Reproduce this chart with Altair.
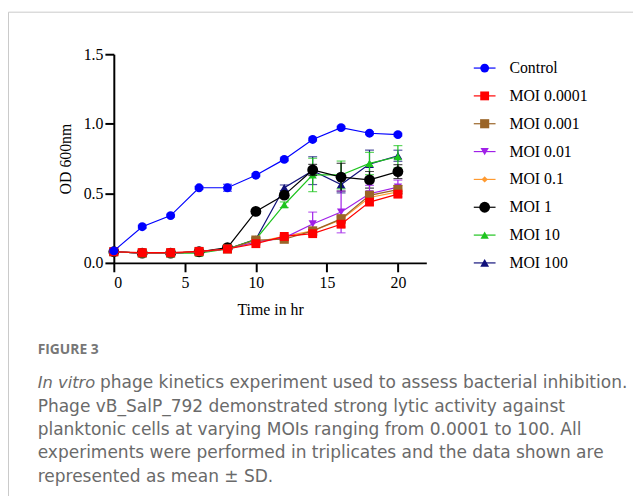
import altair as alt
import pandas as pd

# ---------------- data ----------------
time_hr = [0, 2, 4, 6, 8, 10, 12, 14, 16, 18, 20]

series_names = ["Control", "MOI 0.0001", "MOI 0.001", "MOI 0.01",
                "MOI 0.1", "MOI 1", "MOI 10", "MOI 100"]

od_control = [0.086, 0.26, 0.34, 0.54, 0.54, 0.63, 0.744, 0.887, 0.972, 0.932, 0.922]
od_moi_0_0001 = [0.08, 0.074, 0.074, 0.083, 0.10, 0.138, 0.19, 0.21, 0.278, 0.437, 0.494]
od_moi_0_001 = [0.08, 0.07, 0.07, 0.08, 0.10, 0.164, 0.17, 0.23, 0.316, 0.485, 0.527]
od_moi_0_01 = [0.08, 0.07, 0.07, 0.08, 0.10, 0.15, 0.18, 0.28, 0.366, 0.497, 0.545]
od_moi_0_1 = [0.08, 0.07, 0.07, 0.08, 0.10, 0.15, 0.19, 0.23, 0.31, 0.47, 0.51]
od_moi_1 = [0.08, 0.07, 0.07, 0.08, 0.11, 0.37, 0.487, 0.668, 0.616, 0.597, 0.656]
od_moi_10 = [0.08, 0.07, 0.07, 0.07, 0.10, 0.17, 0.418, 0.632, 0.632, 0.715, 0.763]
od_moi_100 = [0.08, 0.07, 0.07, 0.08, 0.10, 0.17, 0.54, 0.663, 0.563, 0.71, 0.77]

sd_control = [0.01, 0.01, 0.01, 0.01, 0.025, 0.01, 0.01, 0.01, 0.01, 0.01, 0.01]
sd_moi_0_0001 = [0, 0, 0, 0, 0, 0.01, 0.01, 0.01, 0.02, 0.02, 0.02]
sd_moi_0_001 = [0, 0, 0, 0, 0, 0.01, 0.01, 0.01, 0.03, 0.03, 0.03]
sd_moi_0_01 = [0, 0, 0, 0, 0, 0.01, 0.01, 0.085, 0.15, 0.06, 0.05]
sd_moi_0_1 = [0, 0, 0, 0, 0, 0.01, 0.01, 0.01, 0.02, 0.02, 0.02]
sd_moi_1 = [0, 0, 0, 0, 0, 0.01, 0.02, 0.04, 0.10, 0.06, 0.05]
sd_moi_10 = [0, 0, 0, 0, 0, 0.01, 0.02, 0.12, 0.10, 0.08, 0.08]
sd_moi_100 = [0, 0, 0, 0, 0, 0.01, 0.02, 0.10, 0.06, 0.10, 0.04]

x_ticks = [0, 5, 10, 15, 20]
y_ticks = [0.0, 0.5, 1.0, 1.5]

caption_head = "FIGURE 3"
caption_italic = "In vitro"
caption_lines = [
    "phage kinetics experiment used to assess bacterial inhibition.",
    "Phage vB_SalP_792 demonstrated strong lytic activity against",
    "planktonic cells at varying MOIs ranging from 0.0001 to 100. All",
    "experiments were performed in triplicates and the data shown are",
    "represented as mean \u00b1 SD.",
]

# ---------------- styles ----------------
od_values = [od_control, od_moi_0_0001, od_moi_0_001, od_moi_0_01,
             od_moi_0_1, od_moi_1, od_moi_10, od_moi_100]
sd_values = [sd_control, sd_moi_0_0001, sd_moi_0_001, sd_moi_0_01,
             sd_moi_0_1, sd_moi_1, sd_moi_10, sd_moi_100]
colors = ["#0000ff", "#ff0000", "#9a6427", "#a020e8",
          "#ff9a30", "#000000", "#1ec41e", "#10107a"]
shapes = ["circle", "square", "square", "triangle-down",
          "diamond", "circle", "triangle-up", "triangle-up"]
sizes = [80, 80, 85, 70, 40, 120, 70, 80]
draw_order = [7, 6, 5, 4, 3, 2, 1, 0]

SERIF = "Liberation Serif"
SANS = "DejaVu Sans"
W, H = 316, 211
PAD_L, PAD_T = 107, 44
CAP_X = -77

x_scale = alt.Scale(domain=[0, 22], nice=False)
y_scale = alt.Scale(domain=[0, 1.5], nice=False)
x_axis = alt.Axis(values=x_ticks, title="Time in hr")
y_axis = alt.Axis(values=y_ticks, format=".1f", title="OD 600nm")


def X(field):
    return alt.X(field, scale=x_scale, axis=x_axis, title="Time in hr")


def Y(field):
    return alt.Y(field, scale=y_scale, axis=y_axis, title="OD 600nm")


layers = []

# frame (light border around figure)
frame = alt.Chart(pd.DataFrame({"a": [0]})).mark_rect(
    fill=None, stroke="#c9c9c9", strokeWidth=1
).encode(x=alt.value(-PAD_L + 0.5), x2=alt.value(700), y=alt.value(-PAD_T + 1.5), y2=alt.value(600))
layers.append(frame)

for i in draw_order:
    df = pd.DataFrame({
        "time": time_hr,
        "od": od_values[i],
        "lo": [m - s for m, s in zip(od_values[i], sd_values[i])],
        "hi": [m + s for m, s in zip(od_values[i], sd_values[i])],
        "series": series_names[i],
    })
    base = alt.Chart(df)
    err = base.mark_rule(color=colors[i], strokeWidth=1.2).encode(
        x=X("time:Q"), y=Y("lo:Q"), y2="hi:Q")
    cap_hi = base.mark_tick(color=colors[i], thickness=1.2, size=9, orient="horizontal").encode(
        x=X("time:Q"), y=Y("hi:Q"))
    cap_lo = base.mark_tick(color=colors[i], thickness=1.2, size=9, orient="horizontal").encode(
        x=X("time:Q"), y=Y("lo:Q"))
    line = base.mark_line(color=colors[i], strokeWidth=1.2).encode(x=X("time:Q"), y=Y("od:Q"))
    pts = base.mark_point(shape=shapes[i], filled=True, fill=colors[i], color=colors[i],
                          size=sizes[i], opacity=1).encode(x=X("time:Q"), y=Y("od:Q"))
    layers += [err, cap_hi, cap_lo, line, pts]

# legend (manual, line + marker + label)
leg_x0, leg_x1, leg_xm, leg_xt = 364, 386, 375, 400
leg_y0, leg_dy = 14, 28.15
for i, name in enumerate(series_names):
    yy = leg_y0 + i * leg_dy
    ldf = pd.DataFrame({"label": [name]})
    lb = alt.Chart(ldf)
    layers.append(lb.mark_rule(color=colors[i], strokeWidth=1.2).encode(
        x=alt.value(leg_x0), x2=alt.value(leg_x1), y=alt.value(yy)))
    layers.append(lb.mark_point(shape=shapes[i], filled=True, fill=colors[i], color=colors[i],
                                size=sizes[i], opacity=1).encode(
        x=alt.value(leg_xm), y=alt.value(yy)))
    layers.append(lb.mark_text(align="left", baseline="middle", font=SERIF, fontSize=16,
                               color="black").encode(
        x=alt.value(leg_xt), y=alt.value(yy), text="label:N"))

# caption
cdf = pd.DataFrame({"a": [0]})
layers.append(alt.Chart(cdf).mark_text(align="left", baseline="alphabetic", font="Open Sans",
                                       fontSize=14, fontWeight="bold", color="#777777").encode(
    x=alt.value(CAP_X), y=alt.value(303), text=alt.value(caption_head)))
layers.append(alt.Chart(cdf).mark_text(align="left", baseline="alphabetic", font=SANS,
                                       fontSize=16.5, fontStyle="italic", color="#6a6a6a").encode(
    x=alt.value(CAP_X), y=alt.value(338), text=alt.value(caption_italic)))
for j, txt in enumerate(caption_lines):
    xx = CAP_X + 63 if j == 0 else CAP_X
    layers.append(alt.Chart(cdf).mark_text(align="left", baseline="alphabetic", font=SANS,
                                           fontSize=17.2, color="#6a6a6a").encode(
        x=alt.value(xx), y=alt.value(338 + j * 23.6), text=alt.value(txt)))

chart = alt.layer(*layers).properties(
    width=W, height=H,
    autosize=alt.AutoSizeParams(type="none"),
    padding={"left": PAD_L, "top": PAD_T, "right": 632 - PAD_L - W, "bottom": 488 - PAD_T - H},
).configure_view(stroke=None).configure_axis(
    domainColor="black", domainWidth=2, tickColor="black", tickWidth=2, tickSize=9,
    labelFont=SERIF, labelFontSize=16, labelColor="black", labelPadding=2,
    titleFont=SERIF, titleFontSize=16, titleFontWeight="normal", titleColor="black",
    grid=False,
).configure_axisX(labelPadding=3, titlePadding=11).configure_axisY(titlePadding=10)

chart.save("out.html", embed_options={"renderer": "svg", "actions": False})
